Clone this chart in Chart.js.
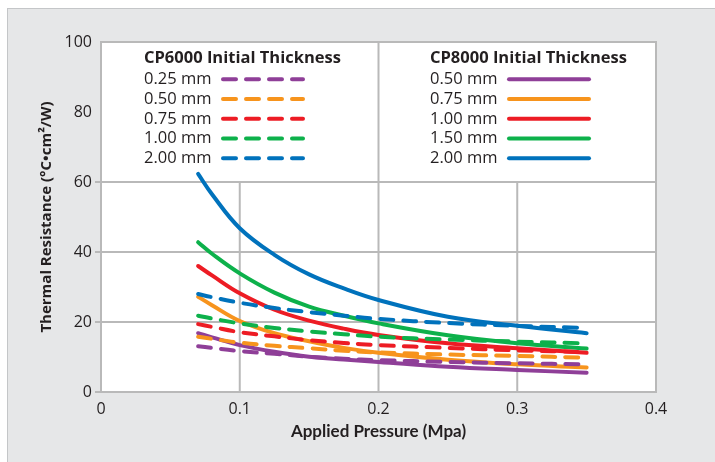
<!DOCTYPE html>
<html>
<head>
<meta charset="utf-8">
<script src="https://cdn.jsdelivr.net/npm/chart.js@4.4.1/dist/chart.umd.min.js"></script>
<style>
    html, body { margin: 0; padding: 0; background: #ffffff; }
    #panel {
        position: absolute; left: 7px; top: 8px; width: 708px; height: 454px;
        background: #e6e7e8; border-left: 1px solid #c4c6c8; border-top: 1px solid #c4c6c8;
    }
    #myChart { position: absolute; left: 0; top: 0; }
</style>
</head>
<body>
<div id="panel"></div>
<canvas id="myChart" width="715" height="462"></canvas>
<script>
// pressure values (Mpa) where the curves were read
const pressure = [0.07, 0.08, 0.1, 0.125, 0.15, 0.175, 0.2, 0.25, 0.3, 0.35];

// CP6000 (dashed)
const cp6000Labels = ['0.25 mm', '0.50 mm', '0.75 mm', '1.00 mm', '2.00 mm'];
const cp6000_025 = [13.1, 12.6, 11.7, 10.9, 10.1, 9.5, 9.1, 8.6, 8.2, 7.9];
const cp6000_050 = [15.8, 15.2, 14.1, 13.2, 12.5, 11.8, 11.3, 10.7, 10.3, 9.8];
const cp6000_075 = [19.4, 18.6, 17.1, 15.9, 14.8, 14.0, 13.4, 12.6, 11.9, 11.4];
const cp6000_100 = [21.8, 21.0, 19.6, 18.3, 17.3, 16.5, 15.8, 15.0, 14.4, 13.9];
const cp6000_200 = [28.0, 27.1, 25.5, 24.0, 22.8, 21.8, 20.9, 19.7, 18.9, 18.3];

// CP8000 (solid)
const cp8000Labels = ['0.50 mm', '0.75 mm', '1.00 mm', '1.50 mm', '2.00 mm'];
const cp8000_050 = [16.8, 15.6, 13.4, 11.5, 10.1, 9.3, 8.6, 7.2, 6.3, 5.5];
const cp8000_075 = [27.2, 24.8, 20.3, 16.8, 14.5, 12.6, 11.2, 9.2, 7.9, 7.0];
const cp8000_100 = [36.0, 33.3, 28.2, 23.5, 20.4, 18.1, 16.3, 13.9, 12.5, 11.2];
const cp8000_150 = [42.8, 39.5, 33.9, 28.4, 24.4, 21.8, 19.6, 16.2, 13.9, 12.4];
const cp8000_200 = [62.3, 56.5, 46.8, 39.2, 33.6, 29.6, 26.3, 21.5, 18.9, 16.8];

const xTicks = [0, 0.1, 0.2, 0.3, 0.4];
const yTicks = [0, 20, 40, 60, 80, 100];

const colors = ['#8f3f98', '#f7941d', '#ed1c24', '#0db14b', '#0072bc'];
const textColor = '#231f20';
const gridColor = '#b9b9b9';

const toPoints = values => values.map((v, i) => ({ x: pressure[i], y: v }));

const cp6000Series = [cp6000_025, cp6000_050, cp6000_075, cp6000_100, cp6000_200];
const cp8000Series = [cp8000_050, cp8000_075, cp8000_100, cp8000_150, cp8000_200];

const datasets = [];
cp6000Series.forEach((values, i) => {
    datasets.push({
        label: cp6000Labels[i],
        group: 'CP6000',
        data: toPoints(values),
        borderColor: colors[i],
        borderWidth: 4,
        borderDash: [13, 10],
        borderCapStyle: 'round',
        pointRadius: 0,
        fill: false,
        tension: 0.4
    });
});
cp8000Series.forEach((values, i) => {
    datasets.push({
        label: cp8000Labels[i],
        group: 'CP8000',
        data: toPoints(values),
        borderColor: colors[i],
        borderWidth: 4,
        borderCapStyle: 'round',
        pointRadius: 0,
        fill: false,
        tension: 0.4
    });
});

// white plot area + frame + vertical grid lines
const plotBackground = {
    id: 'plotBackground',
    beforeDraw(chart) {
        const { ctx, chartArea } = chart;
        ctx.save();
        ctx.fillStyle = '#ffffff';
        ctx.fillRect(chartArea.left, chartArea.top, chartArea.right - chartArea.left, chartArea.bottom - chartArea.top);
        ctx.restore();
    },
    beforeDatasetsDraw(chart) {
        const { ctx, chartArea, scales } = chart;
        ctx.save();
        ctx.strokeStyle = gridColor;
        ctx.lineWidth = 2;
        [0.1, 0.2, 0.3].forEach(v => {
            const x = scales.x.getPixelForValue(v);
            const yTop = v === 0.2 ? chartArea.top : scales.y.getPixelForValue(60);
            ctx.beginPath();
            ctx.moveTo(x, yTop);
            ctx.lineTo(x, chartArea.bottom);
            ctx.stroke();
        });
        ctx.strokeRect(chartArea.left, chartArea.top, chartArea.right - chartArea.left, chartArea.bottom - chartArea.top);
        ctx.restore();
    }
};

// two-column legend drawn from the datasets
const groupLegend = {
    id: 'groupLegend',
    afterDraw(chart) {
        const ctx = chart.ctx;
        const columns = [
            { group: 'CP6000', textX: 144, lineX0: 223, lineX1: 303 },
            { group: 'CP8000', textX: 430, lineX0: 509, lineX1: 589 }
        ];
        ctx.save();
        columns.forEach(col => {
            ctx.fillStyle = textColor;
            ctx.textBaseline = 'middle';
            ctx.textAlign = 'left';
            ctx.font = 'bold 16.5px "Open Sans"';
            ctx.fillText(col.group + ' Initial Thickness', col.textX, 58);
            const items = chart.data.datasets.filter(d => d.group === col.group);
            items.forEach((d, i) => {
                const y = 79.3 + i * 19.75;
                ctx.fillStyle = textColor;
                ctx.font = '16.5px "Open Sans"';
                ctx.fillText(d.label, col.textX, y);
                ctx.strokeStyle = d.borderColor;
                ctx.lineWidth = 4;
                ctx.lineCap = 'round';
                ctx.setLineDash(d.borderDash || []);
                ctx.beginPath();
                ctx.moveTo(col.lineX0, y);
                ctx.lineTo(col.lineX1, y);
                ctx.stroke();
            });
        });
        ctx.restore();
    }
};

const ctx = document.getElementById('myChart').getContext('2d');
new Chart(ctx, {
    type: 'line',
    data: { datasets: datasets },
    options: {
        responsive: false,
        animation: false,
        devicePixelRatio: 1,
        layout: { padding: { left: 38, top: 42, right: 59, bottom: 0 } },
        plugins: {
            legend: { display: false },
            tooltip: { enabled: false }
        },
        scales: {
            x: {
                type: 'linear',
                min: 0,
                max: 0.4,
                afterFit: scale => { scale.height = 70; },
                afterBuildTicks: scale => { scale.ticks = xTicks.map(v => ({ value: v })); },
                grid: { display: false },
                border: { display: false },
                ticks: {
                    color: textColor,
                    font: { family: 'Open Sans', size: 16 },
                    padding: 0,
                    maxRotation: 0,
                    callback: value => String(value)
                },
                title: {
                    display: true,
                    text: 'Applied Pressure (Mpa)',
                    color: textColor,
                    font: { family: 'Lato', size: 17, weight: 'bold' },
                    padding: { top: 4, bottom: 20 }
                }
            },
            y: {
                min: 0,
                max: 100,
                afterFit: scale => { scale.width = 63; },
                afterBuildTicks: scale => { scale.ticks = yTicks.map(v => ({ value: v })); },
                grid: {
                    lineWidth: 2,
                    tickLength: 6,
                    color: c => (c.tick && c.tick.value > 0 && c.tick.value <= 60) ? gridColor : 'rgba(0,0,0,0)',
                    tickColor: c => (c.tick && c.tick.value <= 60) ? gridColor : 'rgba(0,0,0,0)'
                },
                border: { display: false },
                ticks: {
                    color: textColor,
                    font: { family: 'Open Sans', size: 16 },
                    padding: 3
                },
                title: {
                    display: true,
                    text: 'Thermal Resistance (°C•cm²/W)',
                    color: textColor,
                    font: { family: 'Open Sans', size: 15, weight: 'bold' },
                    padding: { top: 0, bottom: 0 }
                }
            }
        }
    },
    plugins: [plotBackground, groupLegend]
});
</script>
</body>
</html>
